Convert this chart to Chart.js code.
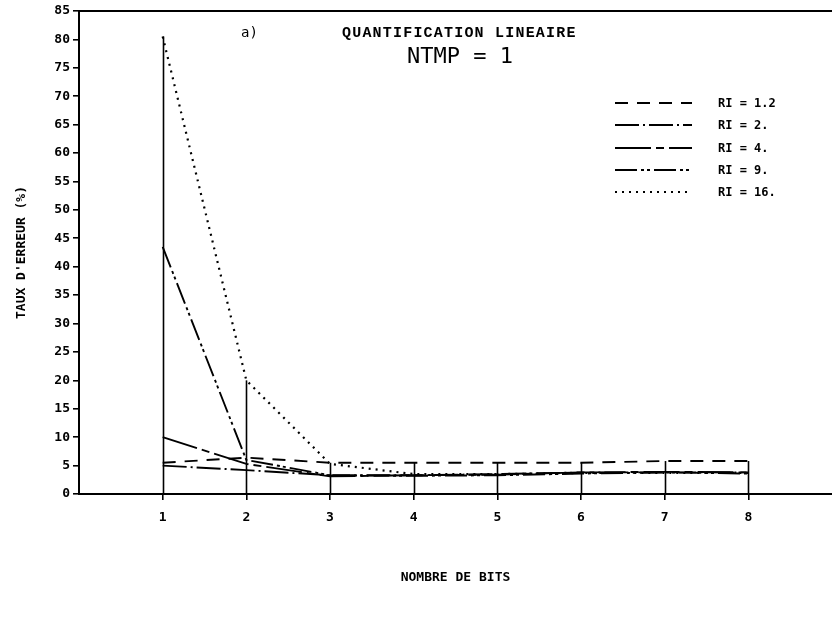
<!DOCTYPE html>
<html>
<head>
<meta charset="utf-8">
<script src="https://cdn.jsdelivr.net/npm/chart.js@4.4.1/dist/chart.umd.min.js"></script>
<style>
  body { margin: 0; background: #fff; }
  #wrap { width: 832px; height: 622px; }
</style>
</head>
<body>
<div id="wrap"><canvas id="myChart" width="832" height="622"></canvas></div>
<script>
const bits = [1, 2, 3, 4, 5, 6, 7, 8];
const ri12 = [5.5, 6.4, 5.5, 5.5, 5.5, 5.5, 5.8, 5.8];
const ri2 = [5.0, 4.2, 3.3, 3.3, 3.5, 3.8, 3.8, 3.8];
const ri4 = [10.0, 5.3, 3.1, 3.3, 3.4, 3.8, 3.9, 3.8];
const ri9 = [43.5, 6.0, 3.3, 3.2, 3.3, 3.6, 3.8, 3.6];
const ri16 = [80.5, 20.0, 5.3, 3.5, 3.5, 3.7, 3.7, 3.7];
const legendLabels = ["RI = 1.2", "RI = 2.", "RI = 4.", "RI = 9.", "RI = 16."];
const yTicks = [0, 5, 10, 15, 20, 25, 30, 35, 40, 45, 50, 55, 60, 65, 70, 75, 80, 85];

const FONT = "'DejaVu Sans Mono', 'Liberation Mono', monospace";
const TITLE_FONT = "'Liberation Mono', 'DejaVu Sans Mono', monospace";

const dashes = [
  [13, 9],
  [24, 4, 2, 4],
  [36, 5, 8, 5],
  [22, 4, 3, 3, 3, 4],
  [2, 5],
];

function toPoints(vals) {
  return bits.map((b, i) => ({ x: b, y: vals[i] }));
}

const allSeries = [ri12, ri2, ri4, ri9, ri16];

// drop lines, frame, titles and legend
const decor = {
  id: "decor",
  afterDatasetsDraw(chart) {
    const { ctx, chartArea, scales } = chart;
    const xs = scales.x, ys = scales.y;
    ctx.save();
    ctx.strokeStyle = "#000";
    ctx.setLineDash([]);

    // vertical lines at each bit count, up to highest value
    ctx.lineWidth = 1.6;
    bits.forEach((b, i) => {
      const top = Math.max(...allSeries.map(s => s[i]));
      const px = Math.round(xs.getPixelForValue(b)) + 0.5;
      ctx.beginPath();
      ctx.moveTo(px, ys.getPixelForValue(0));
      ctx.lineTo(px, ys.getPixelForValue(top));
      ctx.stroke();
    });

    // top frame line
    ctx.lineWidth = 2;
    ctx.beginPath();
    ctx.moveTo(chartArea.left, chartArea.top);
    ctx.lineTo(chartArea.right, chartArea.top);
    ctx.stroke();

    // titles
    ctx.fillStyle = "#000";
    ctx.textBaseline = "alphabetic";
    ctx.textAlign = "left";
    ctx.font = "14px " + FONT;
    ctx.fillText("a)", 241, 37);
    ctx.font = "bold 15px " + TITLE_FONT;
    ctx.letterSpacing = "1.2px";
    ctx.fillText("QUANTIFICATION LINEAIRE", 342, 37);
    ctx.letterSpacing = "0px";
    ctx.font = "22px " + FONT;
    ctx.fillText("NTMP = 1", 407, 63);

    // legend
    const rows = [103, 125, 148, 170, 192];
    ctx.font = "bold 12px " + FONT;
    chart.data.datasets.forEach((ds, i) => {
      const y = rows[i];
      ctx.lineWidth = ds.borderWidth;
      ctx.setLineDash(ds.borderDash);
      ctx.beginPath();
      ctx.moveTo(615, y);
      ctx.lineTo(692, y);
      ctx.stroke();
      ctx.setLineDash([]);
      ctx.fillText(legendLabels[i], 718, y + 4);
    });
    ctx.restore();
  }
};

new Chart(document.getElementById("myChart"), {
  type: "line",
  data: {
    datasets: allSeries.map((s, i) => ({
      label: legendLabels[i],
      data: toPoints(s),
      borderColor: "#000",
      borderWidth: i === 4 ? 2.2 : 1.9,
      borderDash: dashes[i],
      pointRadius: 0,
      tension: 0,
      fill: false,
    })),
  },
  options: {
    responsive: false,
    devicePixelRatio: 1,
    animation: false,
    layout: { padding: { top: 11, right: 0, left: 10, bottom: 33 } },
    plugins: { legend: { display: false }, tooltip: { enabled: false } },
    scales: {
      x: {
        type: "linear",
        min: 0,
        max: 9,
        afterBuildTicks: s => { s.ticks = bits.map(v => ({ value: v })); },
        afterFit: s => { s.height = 95; },
        grid: { drawOnChartArea: false, tickLength: 6, color: "#000", lineWidth: 1.6 },
        border: { color: "#000", width: 2 },
        ticks: { color: "#000", font: { family: FONT, size: 13, weight: "bold" }, padding: 10, maxRotation: 0 },
        title: { display: true, text: "NOMBRE DE BITS", color: "#000", font: { family: FONT, size: 13, weight: "bold" }, padding: { top: 10 } },
      },
      y: {
        min: 0,
        max: 85,
        afterBuildTicks: s => { s.ticks = yTicks.map(v => ({ value: v })); },
        afterFit: s => { s.width = 69; },
        grid: { drawOnChartArea: false, tickLength: 6, color: "#000", lineWidth: 1.6 },
        border: { color: "#000", width: 2 },
        ticks: { color: "#000", font: { family: FONT, size: 13, weight: "bold" }, padding: 3 },
        title: { display: true, text: "TAUX D'ERREUR (%)", color: "#000", font: { family: FONT, size: 13, weight: "bold" }, padding: { bottom: 4 } },
      },
    },
  },
  plugins: [decor],
});
</script>
</body>
</html>
